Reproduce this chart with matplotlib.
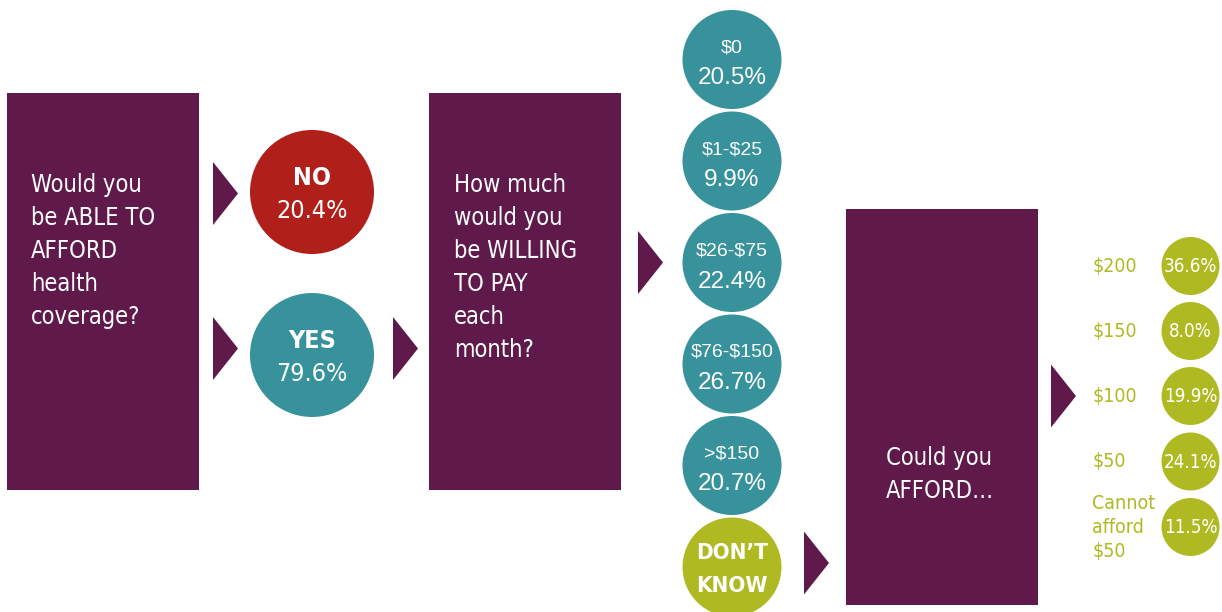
import matplotlib.pyplot as plt
from matplotlib import font_manager
from matplotlib.font_manager import FontProperties
from matplotlib.patches import Rectangle, Circle, Polygon

plt.rcParams['text.parse_math'] = False

# survey answers
able_labels = ['NO', 'YES']
able_values = [20.4, 79.6]

pay_labels = ['$0', '$1-$25', '$26-$75', '$76-$150', '>$150']
pay_values = [20.5, 9.9, 22.4, 26.7, 20.7]
dont_know_label = 'DON\u2019T\nKNOW'

afford_labels = ['$200', '$150', '$100', '$50', 'Cannot\nafford\n$50']
afford_values = [36.6, 8.0, 19.9, 24.1, 11.5]

questions = [
    'Would you\nbe ABLE TO\nAFFORD\nhealth\ncoverage?',
    'How much\nwould you\nbe WILLING\nTO PAY\neach\nmonth?',
    'Could you\nAFFORD\u2026',
]

PURPLE = '#5f1a4b'
TEAL = '#38929b'
RED = '#b11f1a'
GREEN = '#afba23'


def narrow_props(weight='normal'):
    # prefer a condensed face when one is installed
    for fam, stretch in [('Liberation Sans Narrow', 'normal'),
                         ('DejaVu Sans', 'condensed')]:
        fp = FontProperties(family=fam, stretch=stretch, weight=weight)
        try:
            path = font_manager.findfont(fp, fallback_to_default=False)
        except ValueError:
            continue
        if 'Narrow' in path or 'Condensed' in path:
            return fp
    return FontProperties(family='Liberation Sans', weight=weight)


NARROW = narrow_props()
NARROW_BOLD = narrow_props('bold')
REGULAR = FontProperties(family='Liberation Sans')

fig = plt.figure(figsize=(12.22, 6.12), dpi=100)
ax = fig.add_axes([0, 0, 1, 1])
ax.set_xlim(0, 1222)
ax.set_ylim(612, 0)
ax.axis('off')


def txt(x, y, s, fp, size, color='white', ha='left'):
    p = fp.copy()
    p.set_size(size)
    ax.text(x, y, s, color=color, fontproperties=p, ha=ha, va='baseline')


def box(x, y, w, h, text, tx, ty):
    ax.add_patch(Rectangle((x, y), w, h, color=PURPLE, lw=0))
    for i, line in enumerate(text.split('\n')):
        txt(tx, ty + i * 33, line, NARROW, 17)


def arrow(x, yc, w=25, h=63):
    ax.add_patch(Polygon([(x, yc - h / 2), (x + w, yc), (x, yc + h / 2)],
                         closed=True, color=PURPLE, lw=0))


# question boxes
box(7, 93, 192, 397, questions[0], 31, 192)
box(429, 93, 192, 397, questions[1], 454, 192)
box(846, 209, 192, 396, questions[2], 886, 465)

# first question: yes / no
able_colors = [RED, TEAL]
able_y = [192, 355]
arrow_y = [193.5, 348.5]
for lab, val, c, cy, ay in zip(able_labels, able_values, able_colors,
                               able_y, arrow_y):
    arrow(213, ay)
    ax.add_patch(Circle((312, cy), 62, color=c, lw=0))
    txt(312, cy - 7, lab, NARROW_BOLD, 18, ha='center')
    txt(312, cy + 26, f'{val:.1f}%', NARROW, 18, ha='center')
arrow(393, arrow_y[1])

# willingness to pay
pay_y = [59.5, 161, 262.5, 364, 465.5, 567]
arrow(638, pay_y[2])
for lab, val, cy in zip(pay_labels, pay_values, pay_y):
    ax.add_patch(Circle((732, cy), 49.5, color=TEAL, lw=0))
    txt(732, cy - 7, lab, REGULAR, 14, ha='center')
    txt(732, cy + 25, f'{val:.1f}%', REGULAR, 17.5, ha='center')

ax.add_patch(Circle((732, pay_y[-1]), 49.5, color=GREEN, lw=0))
for i, line in enumerate(dont_know_label.split('\n')):
    txt(732, pay_y[-1] - 8 + i * 33, line, NARROW_BOLD, 16, ha='center')
arrow(804, pay_y[-1] - 4)

# what they could afford
afford_y = [266, 331, 396, 461.5, 527]
arrow(1051, afford_y[2])
for lab, val, cy in zip(afford_labels, afford_values, afford_y):
    ax.add_patch(Circle((1190.5, cy), 29, color=GREEN, lw=0))
    txt(1190.5, cy + 6, f'{val:.1f}%', NARROW, 13.5, ha='center')
    lines = lab.split('\n')
    top = cy + 6 - (len(lines) - 1) * 24 / 2
    for i, line in enumerate(lines):
        txt(1092, top + i * 24, line, NARROW, 14, color=GREEN)

fig.savefig('out.png', dpi=100)
